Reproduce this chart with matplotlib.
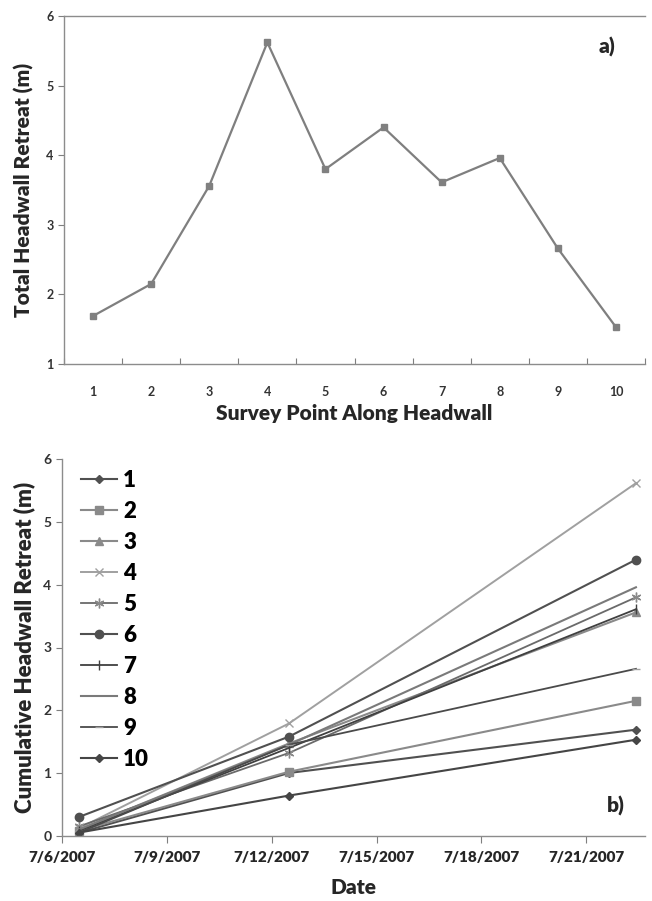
import matplotlib
matplotlib.use("Agg")
import matplotlib.pyplot as plt
import matplotlib.dates as mdates
from matplotlib.ticker import FixedLocator, FuncFormatter, NullFormatter
from datetime import datetime

plt.rcParams['font.family'] = ['Lato', 'DejaVu Sans']

# Panel a data
survey_points = ['1', '2', '3', '4', '5', '6', '7', '8', '9', '10']
total_retreat = [1.69, 2.15, 3.56, 5.62, 3.80, 4.40, 3.61, 3.96, 2.66, 1.53]

# Panel b data
survey_dates = ['2007-07-06 12:00', '2007-07-12 12:00', '2007-07-22 10:00']
cum_1 = [0.05, 1.00, 1.69]
cum_2 = [0.08, 1.02, 2.15]
cum_3 = [0.10, 1.47, 3.56]
cum_4 = [0.12, 1.79, 5.62]
cum_5 = [0.15, 1.32, 3.80]
cum_6 = [0.30, 1.58, 4.40]
cum_7 = [0.08, 1.40, 3.61]
cum_8 = [0.10, 1.45, 3.96]
cum_9 = [0.05, 1.45, 2.66]
cum_10 = [0.05, 0.64, 1.53]
series_labels = ['1', '2', '3', '4', '5', '6', '7', '8', '9', '10']

W = 'heavy'
fig = plt.figure(figsize=(6.52, 9.01), dpi=100)

# ---------- Panel a ----------
axa = fig.add_axes([64/652, 1-364/901, 581/652, 348/901])
xs = [i + 0.5 for i in range(len(survey_points))]
axa.plot(xs, total_retreat, color='#7f7f7f', lw=1.6, marker='s', ms=5,
         mfc='#808080', mec='#808080')
axa.set_xlim(0, 10)
axa.set_ylim(1, 6)
axa.xaxis.set_major_locator(FixedLocator(range(0, 11)))
axa.xaxis.set_major_formatter(NullFormatter())
axa.set_xticks(xs, minor=True)
axa.set_xticklabels(survey_points, minor=True)
axa.tick_params(axis='x', which='minor', length=0, pad=16, labelsize=9,
                labelcolor='#333333')
axa.tick_params(axis='x', which='major', length=4, direction='in', color='#7f7f7f')
axa.set_yticks([1, 2, 3, 4, 5, 6])
axa.tick_params(axis='y', length=4, direction='out', color='#7f7f7f',
                labelsize=9, labelcolor='#333333')
for lab in axa.get_xticklabels(minor=True) + axa.get_yticklabels():
    lab.set_fontweight('bold')
for s in ['left', 'bottom', 'top']:
    axa.spines[s].set_color('#8c8c8c')
    axa.spines[s].set_linewidth(1.0)
axa.spines['right'].set_visible(False)
axa.set_xlabel('Survey Point Along Headwall', fontsize=15, fontweight=W,
               color='#262626', labelpad=4)
axa.set_ylabel('Total Headwall Retreat (m)', fontsize=15, fontweight=W,
               color='#262626', labelpad=9)
axa.text(0.935, 0.91, 'a)', transform=axa.transAxes, fontsize=15,
         fontweight=W, color='#262626', ha='center', va='center')

# ---------- Panel b ----------
axb = fig.add_axes([61.7/652, 1-835.7/901, 583/652, 376.4/901])
dts = [datetime.strptime(d, '%Y-%m-%d %H:%M') for d in survey_dates]
styles = [
    (cum_1, '#505050', '#505050', 'D', 4.5, 1.5),
    (cum_2, '#8a8a8a', '#8a8a8a', 's', 6, 1.5),
    (cum_3, '#8a8a8a', '#8a8a8a', '^', 6, 1.5),
    (cum_4, '#a0a0a0', '#a0a0a0', 'x', 6, 1.4),
    (cum_5, '#6a6a6a', '#8a8a8a', (6, 2, 0), 7, 1.3),
    (cum_6, '#505050', '#505050', 'o', 6, 1.5),
    (cum_7, '#404040', '#404040', '|', 7, 1.3),
    (cum_8, '#7a7a7a', '#7a7a7a', None, 0, 1.5),
    (cum_9, '#4a4a4a', '#a0a0a0', '_', 6, 1.3),
    (cum_10, '#454545', '#454545', 'D', 4.5, 1.5),
]
for (vals, col, mcol, mk, ms, lw), lab in zip(styles, series_labels):
    axb.plot(dts, vals, color=col, lw=lw, marker=mk, ms=ms, mfc=mcol, mec=mcol,
             label=lab)
axb.set_ylim(0, 6)
axb.set_xlim(datetime(2007, 7, 6), datetime(2007, 7, 22, 16))
tick_dates = [datetime(2007, 7, d) for d in (6, 9, 12, 15, 18, 21)]
axb.set_xticks(tick_dates)
axb.xaxis.set_major_formatter(FuncFormatter(
    lambda v, p: (lambda d: f"{d.month}/{d.day}/{d.year}")(mdates.num2date(v))))
axb.set_yticks([0, 1, 2, 3, 4, 5, 6])
axb.tick_params(axis='x', length=5, direction='out', color='#7f7f7f',
                labelsize=11, labelcolor='#262626', pad=6)
axb.tick_params(axis='y', length=4, direction='out', color='#7f7f7f',
                labelsize=10, labelcolor='#333333')
for lab in axb.get_xticklabels():
    lab.set_fontweight(W)
for lab in axb.get_yticklabels():
    lab.set_fontweight('bold')
for s in ['left', 'bottom']:
    axb.spines[s].set_color('#8c8c8c')
    axb.spines[s].set_linewidth(1.0)
axb.spines['right'].set_visible(False)
axb.spines['top'].set_visible(False)
axb.set_xlabel('Date', fontsize=15, fontweight=W, color='#262626', labelpad=10)
axb.set_ylabel('Cumulative Headwall Retreat (m)', fontsize=16, fontweight=W,
               color='#262626', labelpad=6)
axb.text(0.95, 0.08, 'b)', transform=axb.transAxes, fontsize=15,
         fontweight=W, color='#262626', ha='center', va='center')
leg = axb.legend(loc='upper left', frameon=False, prop={'weight': W, 'size': 16},
                 handlelength=1.6, labelspacing=0.45, borderaxespad=0.0,
                 handletextpad=0.3, bbox_to_anchor=(0.018, 0.995))

fig.savefig('out.png', dpi=100)
